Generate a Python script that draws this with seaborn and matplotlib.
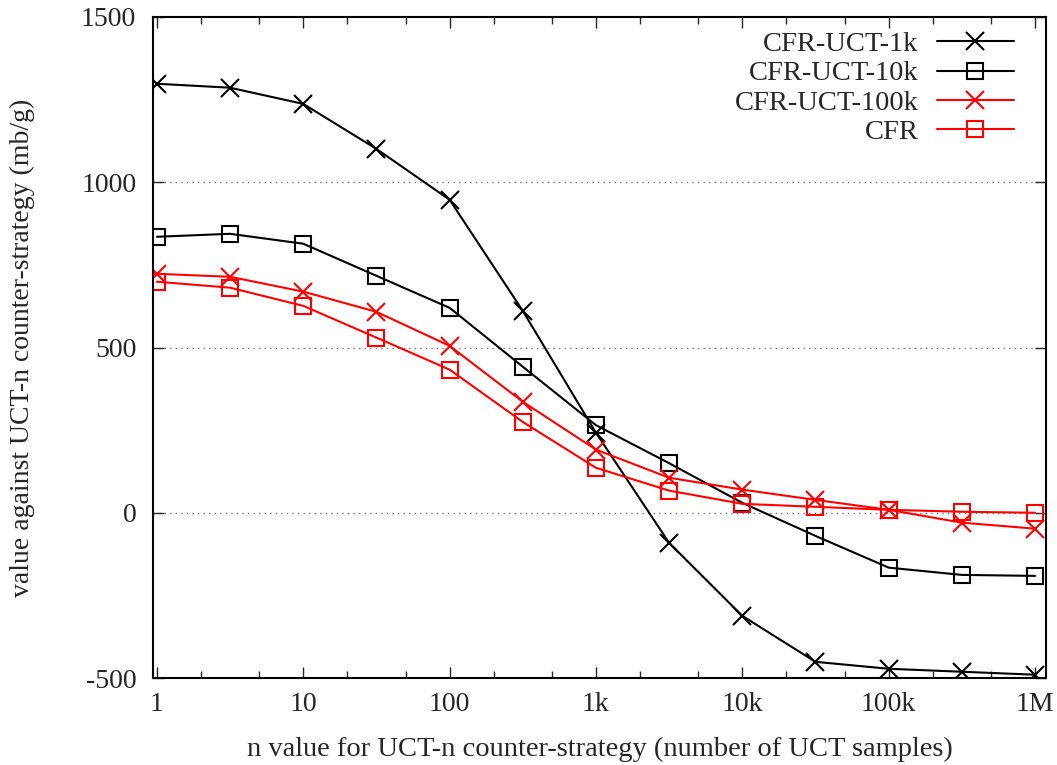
import numpy as np
import matplotlib
matplotlib.use("Agg")
import matplotlib.pyplot as plt
import matplotlib.ticker as mticker
import seaborn as sns
import pandas as pd

# n values (half-decade steps from 1 to 1M)
n_values = [1, 3.16, 10, 31.6, 100, 316, 1e3, 3.16e3, 1e4, 3.16e4, 1e5, 3.16e5, 1e6]

cfr_uct_1k = [1298, 1286, 1237, 1101, 947, 611, 242, -91, -312, -451, -472, -481, -490]
cfr_uct_10k = [835, 844, 814, 717, 620, 442, 265, 150, 30, -70, -166, -188, -191]
cfr_uct_100k = [723, 714, 669, 608, 505, 336, 191, 106, 70, 39, 9, -30, -48]
cfr = [699, 681, 626, 530, 433, 275, 136, 67, 27, 18, 9, 3, 0]

x_ticks = [1, 10, 100, 1e3, 1e4, 1e5, 1e6]
x_ticklabels = ['1', '10', '100', '1k', '10k', '100k', '1M']
y_ticks = [-500, 0, 500, 1000, 1500]

series = [
    ("CFR-UCT-1k", cfr_uct_1k, 'black', 'x'),
    ("CFR-UCT-10k", cfr_uct_10k, 'black', 's'),
    ("CFR-UCT-100k", cfr_uct_100k, 'red', 'x'),
    ("CFR", cfr, 'red', 's'),
]

sns.set_style("ticks")
plt.rcParams['font.family'] = ['Liberation Serif', 'DejaVu Serif']

fig = plt.figure(figsize=(10.57, 7.65), dpi=100)
ax = fig.add_axes([0.1447, 0.1137, 0.8449, 0.8641])

for name, vals, col, mk in series:
    df = pd.DataFrame({'n': n_values, 'value': vals})
    sns.lineplot(data=df, x='n', y='value', ax=ax, color=col, marker=mk,
                 markersize=13 if mk == 'x' else 11,
                 markerfacecolor='none', markeredgecolor=col,
                 markeredgewidth=1.5, linewidth=1.5, label=name)

ax.set_xscale('log')
ax.set_xlim(10 ** -0.027, 10 ** 6.075)
ax.set_ylim(-500, 1500)
ax.set_xticks(x_ticks)
ax.set_xticklabels(x_ticklabels)
ax.xaxis.set_minor_locator(mticker.LogLocator(base=10, subs=[2, 5]))
ax.xaxis.set_minor_formatter(mticker.NullFormatter())
ax.set_yticks(y_ticks)
ax.set_yticklabels([str(v) for v in y_ticks])

ax.tick_params(which='both', direction='in', top=True, right=True, width=1, labelsize=20)
ax.tick_params(which='major', length=8)
ax.tick_params(which='minor', length=5)
ax.tick_params(axis='x', pad=10)
ax.tick_params(axis='y', pad=12)

for s in ax.spines.values():
    s.set_linewidth(1.5)
    s.set_color('black')

for yv in [0, 500, 1000]:
    ax.axhline(yv, color='#777777', linestyle=(0, (1, 3)), linewidth=1, zorder=0)

ax.set_xlabel('n value for UCT-n counter-strategy (number of UCT samples)', fontsize=20.5, labelpad=14)
ax.set_ylabel('value against UCT-n counter-strategy (mb/g)', fontsize=20)
ax.yaxis.set_label_coords(-0.132, 0.5)

leg = ax.legend(loc='upper right', frameon=False, markerfirst=False, fontsize=20.5,
                handlelength=2.7, handletextpad=0.65, labelspacing=0.12,
                borderaxespad=0.1, bbox_to_anchor=(0.98, 1.0))
for col in leg._legend_handle_box.get_children():
    col.align = 'right'

fig.savefig('out.png', dpi=100)
